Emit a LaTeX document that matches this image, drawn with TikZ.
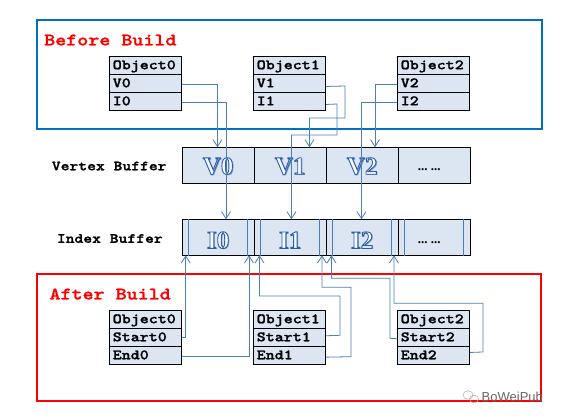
\documentclass[tikz,border=0pt]{standalone}
\usepackage{fontspec}
\setmainfont{Liberation Serif}
\newfontfamily\objfont{lmmonolt10-bold.otf}[FakeStretch=1.2,FakeBold=1.3]
\newfontfamily\wmfont{Liberation Sans}
\usetikzlibrary{arrows.meta}
\definecolor{cellfill}{HTML}{DCE6F2}
\definecolor{conn}{HTML}{4A7EBB}
\definecolor{frameblue}{HTML}{0070C0}
\definecolor{framered}{HTML}{FF0000}
\definecolor{shadowc}{HTML}{7E9CC8}
\newcommand\outltxt[1]{\makebox[0pt][l]{\kern1.2pt\raisebox{-1.2pt}{\color{shadowc}#1}}\special{pdf:literal direct 2 Tr 0.9 w 0.17 0.36 0.66 RG 0.97 0.98 1 rg}#1\special{pdf:literal direct 0 Tr 0 g 0 G}}
\tikzset{
  objrow/.style={draw=black, line width=0.9pt, fill=cellfill, minimum width=72pt, minimum height=18pt,
    text width=66pt, align=left, inner xsep=3pt, inner ysep=2pt, text height=9.5pt, text depth=2.5pt,
    anchor=north west, font=\objfont\fontsize{14.3}{15}\selectfont},
  bufcell/.style={draw=black, line width=0.9pt, fill=cellfill, minimum width=72pt, minimum height=36pt,
    inner sep=0pt, anchor=north west},
  celltext/.style={font=\bfseries\fontsize{25}{25}\selectfont, inner sep=0pt},
  dotstext/.style={font=\bfseries\fontsize{13}{13}\selectfont, inner sep=0pt},
  lbl/.style={font=\objfont\fontsize{14}{15}\selectfont, inner sep=0pt, anchor=west},
  title/.style={font=\objfont\fontsize{17.5}{18}\selectfont, text=framered, inner sep=0pt, anchor=west},
  frame/.style={line width=2pt},
  link/.style={draw=conn, line width=0.8pt},
  arr/.style={link, -{Straight Barb[length=7pt,width=9pt,line width=0.8pt]}},
  inline/.style={draw=conn, line width=0.8pt}
}
\begin{document}
\begin{tikzpicture}[x=1pt,y=-1pt]
\useasboundingbox (0,0) rectangle (566,420);
\fill[white] (0,0) rectangle (566,420);
% frames
\draw[frame, frameblue] (37,20) rectangle (542,129);
\draw[frame, framered] (37,274) rectangle (541,400.5);
\node[title] (tb) at (44,40) {Before Build};
\node[title] (ta) at (49.3,294) {After Build};
% before objects
\foreach \i/\x in {0/109.3,1/253.3,2/397.3}{
  \node[objrow] (b\i t) at (\x,56.3) {Object\i};
  \node[objrow] (b\i v) at (\x,74.3) {V\i};
  \node[objrow] (b\i i) at (\x,92.3) {I\i};
}
% after objects
\foreach \i/\x in {0/109.3,1/253.3,2/397.3}{
  \node[objrow] (a\i t) at (\x,310.3) {Object\i};
  \node[objrow] (a\i s) at (\x,328.3) {Start\i};
  \node[objrow] (a\i e) at (\x,346.3) {End\i};
}
% buffers
\node[lbl] (vlbl) at (51.7,166) {Vertex Buffer};
\node[lbl] (ilbl) at (56.7,238.5) {Index Buffer};
\foreach \k in {0,1,2,3}{
  \node[bufcell] (vb\k) at (181.7+72*\k,147.3) {};
  \node[bufcell] (ib\k) at (181.7+72*\k,219.3) {};
}
\node[celltext] (vt0) at ([yshift=-1pt]vb0.center) {\outltxt{V0}};
\node[celltext] (vt1) at ([yshift=-1pt]vb1.center) {\outltxt{V1}};
\node[celltext] (vt2) at ([yshift=-1pt]vb2.center) {\outltxt{V2}};
\node[dotstext] (vt3) at ([xshift=-5pt,yshift=-4pt]vb3.center) {...\ ...};
\node[celltext] (it0) at ([yshift=-3pt]ib0.center) {\outltxt{I0}};
\node[celltext] (it1) at ([yshift=-3pt]ib1.center) {\outltxt{I1}};
\node[celltext] (it2) at ([yshift=-3pt]ib2.center) {\outltxt{I2}};
\node[dotstext] (it3) at ([xshift=-5pt,yshift=-5pt]ib3.center) {...\ ...};
% inner lines of index buffer cells
\foreach \k in {0,1,2,3}{
  \draw[inline] ([xshift=7pt]ib\k.north west) -- ([xshift=7pt]ib\k.south west);
  \draw[inline] ([xshift=-7pt]ib\k.north east) -- ([xshift=-7pt]ib\k.south east);
}
% endpoint coordinates
\coordinate (v0in) at (217.5,147.3);
\coordinate (i0in) at (226,219.3);
\coordinate (v1in) at (309.5,147.3);
\coordinate (i1in) at (291.5,219.3);
\coordinate (v2in) at (375,147.3);
\coordinate (i2in) at (361.5,219.3);
\coordinate (s0in) at (185.7,255.3);
\coordinate (e0in) at (249,255.3);
\coordinate (s1in) at (259.5,255.3);
\coordinate (e1in) at (322,255.3);
\coordinate (s2in) at (331.5,255.3);
\coordinate (e2in) at (394,255.3);
% before connectors
\draw[arr] ([yshift=-1pt]b0v.east) -| (v0in);
\draw[arr] ([yshift=-1pt]b0i.east) -| (i0in);
\draw[arr] ([yshift=-2.7pt]b1v.east) -- (345,86) -- (345,118) -| (v1in);
\draw[arr] ([yshift=-2.7pt]b1i.east) -- (337,104) -- (337,135) -| (i1in);
\draw[arr] ([yshift=-1pt]b2v.west) -| (v2in);
\draw[arr] ([yshift=-0.7pt]b2i.west) -| (i2in);
% after connectors
\draw[arr] ([yshift=0.3pt]a0s.east) -| (s0in);
\draw[arr] ([yshift=-0.7pt]a0e.east) -| (e0in);
\draw[arr] ([yshift=2pt]a1s.east) -- (340,335.3) -- (340,296) -| (s1in);
\draw[arr] ([yshift=-1.4pt]a1e.east) -- (351,356.7) -- (351,287.3) -| (e1in);
\draw[arr] ([yshift=-1pt]a2s.west) -- (390,338.3) -- (390,278.3) -| (s2in);
\draw[arr] ([yshift=3.3pt]a2e.east) -- (483,352) -- (483,303.3) -| (e2in);
% watermark
\draw[gray!60, line width=0.6pt] (468,395) ellipse (5pt and 4.2pt);
\draw[gray!60, line width=0.6pt] (474,399) ellipse (4.5pt and 3.8pt);
\node[font=\wmfont\fontsize{13}{13}\selectfont, text=gray!80!black, inner sep=0pt, anchor=west] (wm) at (481.5,396.5) {BoWeiPub};
\end{tikzpicture}
\end{document}
